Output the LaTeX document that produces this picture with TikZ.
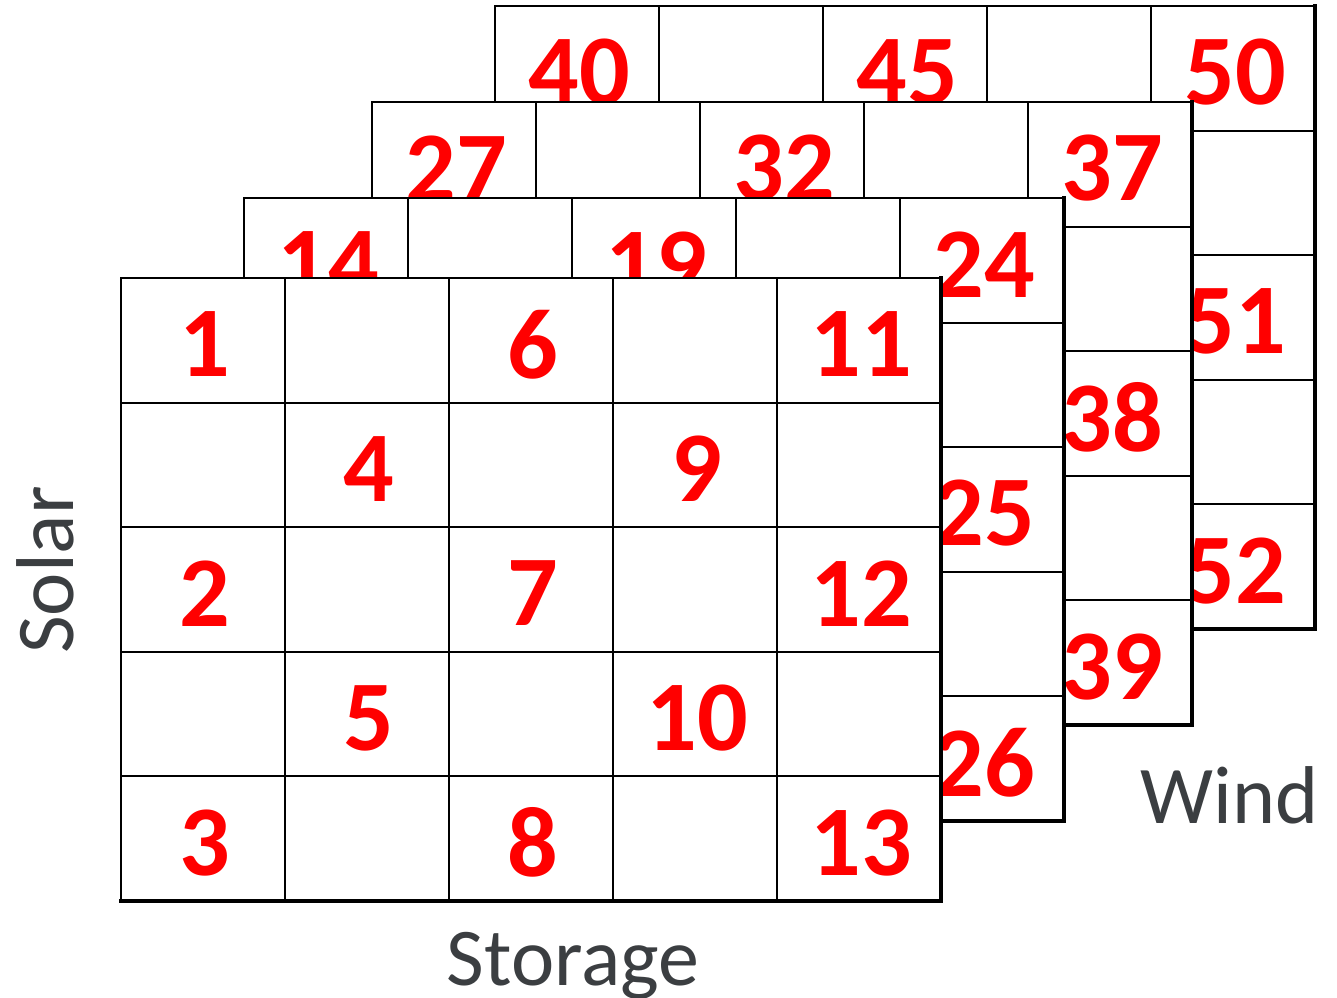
\documentclass[tikz,border=0pt]{standalone}
\usepackage{fontspec}
\setmainfont{Carlito}
\definecolor{lbl}{HTML}{3B3E41}
\tikzset{
  num/.style={text=red, font=\fontsize{100}{100}\selectfont\bfseries, inner sep=0pt, anchor=center},
  lab/.style={text=lbl, font=\fontsize{82}{82}\selectfont, inner sep=0pt},
  gridline/.style={line width=2pt, draw=black},
  edgeline/.style={line width=4pt, draw=black, line cap=rect}
}
\begin{document}
\begin{tikzpicture}[x=1pt,y=-1pt]
\useasboundingbox (0,0) rectangle (1337,997);
\foreach \ox/\oy/\n in {495/6/40, 372/102/27, 244/198/14, 121/278/1} {
  \fill[white] (\ox,\oy) rectangle ++(820,623);
  \foreach \i in {1,...,4} {
    \draw[gridline] (\ox+\i*164,\oy) -- ++(0,623);
    \draw[gridline] (\ox,\oy+\i*124.6) -- ++(820,0);
  }
  \draw[gridline] (\ox,\oy) rectangle ++(820,623);
  \draw[edgeline] (\ox+820,\oy) -- ++(0,623) -- ++(-820,0);
  \foreach \r/\c/\k in {1/1/0, 2/2/3, 3/1/1, 4/2/4, 5/1/2, 1/3/5, 2/4/8, 3/3/6, 4/4/9, 5/3/7, 1/5/10, 3/5/11, 5/5/12} {
    \pgfmathtruncatemacro\v{\n+\k}
    \node[num] (n\v) at (\ox+\c*164-80, \oy+\r*124.6-58.3) {\v};
  }
}
\node[lab, anchor=base] (storage) at (573,985) {Storage};
\node[lab, anchor=base east] (wind) at (1319,823) {Wind};
\node[lab, rotate=90, anchor=base] (solar) at (73,570) {Solar};
\end{tikzpicture}
\end{document}
